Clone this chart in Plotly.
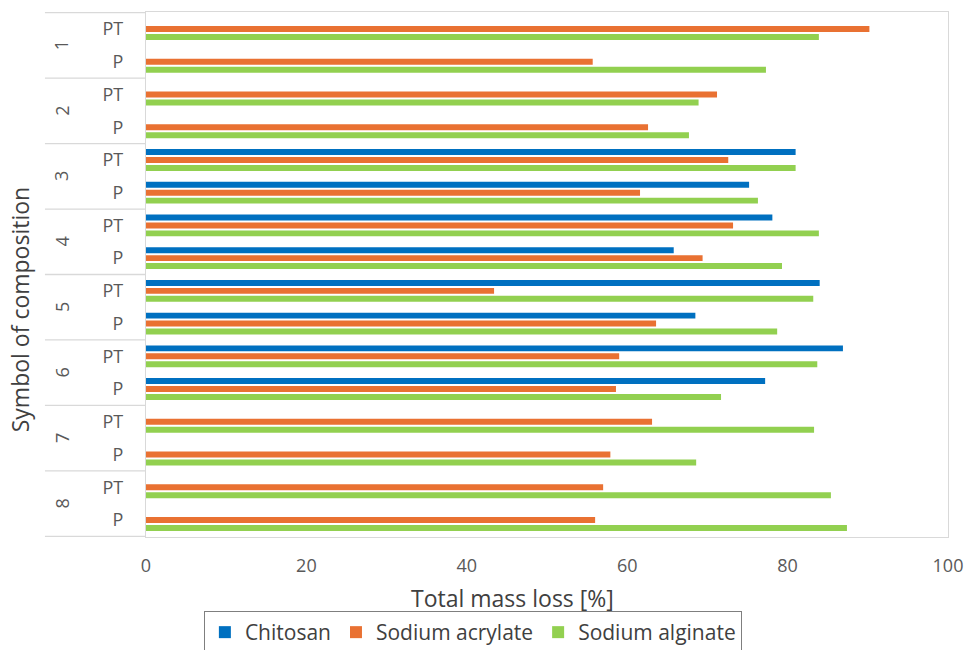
import plotly.graph_objects as go

# Composition groups and specimen types (top to bottom)
groups = ["1", "2", "3", "4", "5", "6", "7", "8"]
types = ["PT", "P"]

# Total mass loss [%] per composition, ordered 1-PT, 1-P, 2-PT, 2-P, ...
chitosan = [None, None, None, None, 81.0, 75.2, 78.1, 65.8,
            84.0, 68.5, 86.9, 77.2, None, None, None, None]
sodium_acrylate = [90.2, 55.7, 71.2, 62.6, 72.6, 61.6, 73.2, 69.4,
                   43.4, 63.6, 59.0, 58.6, 63.1, 57.9, 57.0, 56.0]
sodium_alginate = [83.9, 77.3, 68.9, 67.7, 81.0, 76.3, 83.9, 79.3,
                   83.2, 78.7, 83.7, 71.7, 83.3, 68.6, 85.4, 87.4]

series_names = ["Chitosan", "Sodium acrylate", "Sodium alginate"]
series_colors = ["#0070C0", "#E97132", "#92D050"]

cats = [f"{g}-{t}" for g in groups for t in types]
tick_text = [t for g in groups for t in types]

FONT = "Open Sans"
TXT = "#595959"
GRID = "#D9D9D9"

fig = go.Figure()
for name, vals, col in zip(series_names,
                           [chitosan, sodium_acrylate, sodium_alginate],
                           series_colors):
    fig.add_trace(go.Bar(
        y=cats, x=vals, name=name, orientation="h",
        marker=dict(color=col, line=dict(width=0)),
    ))

shapes = []
# group separators running through the category label area
for k in range(len(groups) + 1):
    pos = 2 * k - 0.5
    shapes.append(dict(type="line", xref="paper", yref="y",
                       x0=-0.126, x1=0, y0=pos, y1=pos,
                       line=dict(color=GRID, width=1.3)))

annotations = []
for k, g in enumerate(groups):
    annotations.append(dict(text=g, xref="paper", yref="y",
                            x=-0.105, y=2 * k + 0.5, showarrow=False,
                            textangle=-90, xanchor="center", yanchor="middle",
                            font=dict(family=FONT, size=18, color=TXT)))
annotations.append(dict(text="Symbol of composition", xref="paper", yref="paper",
                        x=-0.157, y=0.432, showarrow=False, textangle=-90,
                        xanchor="center", yanchor="middle",
                        font=dict(family=FONT, size=23, color="#404040")))
annotations.append(dict(text="Total mass loss [%]", xref="paper", yref="paper",
                        x=0.457, y=-0.117, showarrow=False,
                        xanchor="center", yanchor="middle",
                        font=dict(family=FONT, size=23, color="#404040")))

fig.update_layout(
    width=971, height=650,
    margin=dict(l=146, r=23, t=12, b=113),
    paper_bgcolor="white", plot_bgcolor="white",
    barmode="group", bargap=0.27, bargroupgap=0.25,
    font=dict(family=FONT, size=18, color=TXT),
    shapes=shapes, annotations=annotations,
    legend=dict(orientation="h", x=0.487, xanchor="center", xref="container",
                y=0.060, yanchor="top", yref="container",
                bordercolor="#7F7F7F", borderwidth=1,
                font=dict(family=FONT, size=21, color="#404040"),
                itemwidth=30, traceorder="normal"),
    xaxis=dict(range=[0, 100], dtick=20, showgrid=False, zeroline=False,
               showline=True, mirror=True, linecolor=GRID, linewidth=1.3,
               ticks="", ticklabelstandoff=12, automargin=False,
               tickfont=dict(family=FONT, size=18, color=TXT)),
    yaxis=dict(type="category", categoryarray=cats, categoryorder="array",
               autorange="reversed", tickvals=cats, ticktext=tick_text,
               showgrid=False, zeroline=False, showline=True, mirror=True,
               linecolor=GRID, linewidth=1.3, ticks="",
               ticklabelstandoff=18, automargin=False,
               tickfont=dict(family=FONT, size=18, color=TXT)),
)

fig.write_html("out.html")
